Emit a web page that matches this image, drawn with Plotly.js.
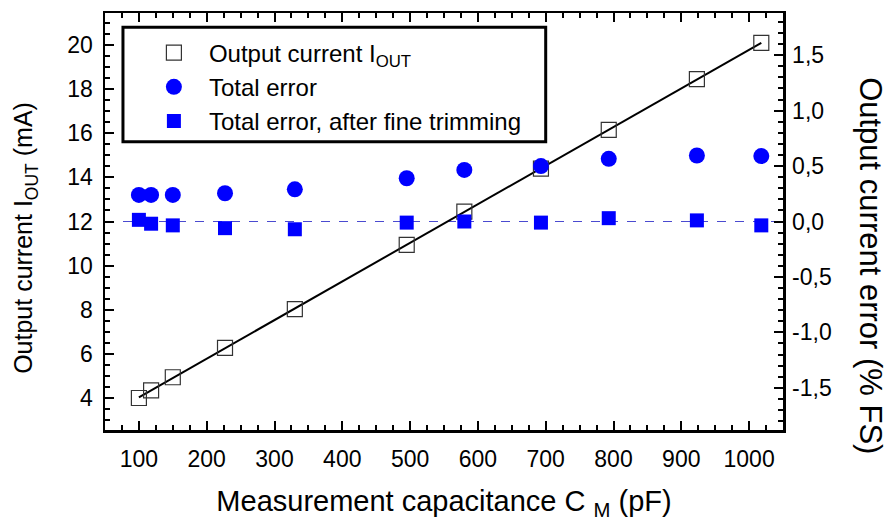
<!DOCTYPE html>
<html>
<head>
<meta charset="utf-8">
<script src="https://cdn.plot.ly/plotly-3.0.1.min.js"></script>
<style>html,body{margin:0;padding:0;background:#fff;}#chart{width:887px;height:521px;}</style>
</head>
<body>
<div id="chart"></div>
<script>
// Data
const capacitance = [100, 118, 150, 227, 330, 495, 580, 693, 793, 923, 1018];     // pF
const outputCurrent = [4.0, 4.35, 4.94, 6.27, 8.03, 10.94, 12.45, 14.4, 16.15, 18.45, 20.1]; // mA
const totalError = [0.24, 0.24, 0.24, 0.255, 0.29, 0.39, 0.465, 0.50, 0.565, 0.595, 0.59];   // % FS
const trimmedError = [0.015, -0.02, -0.035, -0.06, -0.07, -0.01, 0.0, -0.01, 0.03, 0.01, -0.035]; // % FS
const y2TickVals = [-1.5, -1.0, -0.5, 0.0, 0.5, 1.0, 1.5];
const y2TickText = ['-1,5', '-1,0', '-0,5', '0,0', '0,5', '1,0', '1,5'];

// least-squares linear fit of output current
const n = capacitance.length;
const mx = capacitance.reduce((a, b) => a + b, 0) / n;
const my = outputCurrent.reduce((a, b) => a + b, 0) / n;
let sxy = 0, sxx = 0;
for (let i = 0; i < n; i++) { sxy += (capacitance[i] - mx) * (outputCurrent[i] - my); sxx += (capacitance[i] - mx) ** 2; }
const slope = sxy / sxx, icpt = my - slope * mx;
const fitX = [Math.min(...capacitance), Math.max(...capacitance)];
const fitY = fitX.map(x => icpt + slope * x);

const FONT = 'Liberation Sans, Arial, sans-serif';

const traces = [
  {x: fitX, y: fitY, mode: 'lines', line: {color: '#000', width: 2}, showlegend: false, hoverinfo: 'skip'},
  {x: capacitance, y: outputCurrent, mode: 'markers', name: 'Output current I<sub>OUT</sub>',
   marker: {symbol: 'square-open', size: 15, color: '#333', line: {width: 1.2, color: '#333'}}, legendgroup: 'a'},
  {x: capacitance, y: totalError, yaxis: 'y2', mode: 'markers', name: 'Total error',
   marker: {symbol: 'circle', size: 16, color: '#0000ff'}, legendgroup: 'b'},
  {x: capacitance, y: trimmedError, yaxis: 'y2', mode: 'markers', name: 'Total error, after fine trimming',
   marker: {symbol: 'square', size: 14, color: '#0000ff'}, legendgroup: 'c'}
];

const layout = {
  width: 887, height: 521,
  margin: {l: 105, r: 104, t: 13, b: 91},
  paper_bgcolor: '#fff', plot_bgcolor: '#fff',
  font: {family: FONT, color: '#000', size: 22},
  showlegend: true,
  legend: {x: 0.05, y: 0.958, xanchor: 'left', yanchor: 'top', bgcolor: 'rgba(0,0,0,0)',
           font: {family: FONT, size: 24}, itemwidth: 60, traceorder: 'grouped', tracegroupgap: 0},
  xaxis: {
    range: [50, 1050], dtick: 100, tick0: 0, ticks: 'inside', ticklen: 9, tickwidth: 2, tickcolor: '#000',
    minor: {dtick: 25, ticks: 'inside', ticklen: 5, tickwidth: 2, tickcolor: '#000'},
    showline: true, linewidth: 2.5, linecolor: '#000', mirror: 'ticks', showgrid: false, zeroline: false,
    tickfont: {size: 23}, automargin: false, ticklabelstandoff: 7,
    title: {text: 'Measurement capacitance C <sub>M</sub> (pF)', font: {size: 29}, standoff: 22}
  },
  yaxis: {
    range: [2.55, 21.45], dtick: 2, tick0: 0, ticks: 'inside', ticklen: 9, tickwidth: 2, tickcolor: '#000',
    minor: {dtick: 0.5, ticks: 'inside', ticklen: 5, tickwidth: 2, tickcolor: '#000'},
    showline: true, linewidth: 2.5, linecolor: '#000', showgrid: false, zeroline: false,
    tickfont: {size: 23}, automargin: false, ticklabelstandoff: 5
  },
  yaxis2: {
    overlaying: 'y', side: 'right', range: [-1.88, 1.88],
    tickvals: y2TickVals, ticktext: y2TickText,
    ticks: 'inside', ticklen: 9, tickwidth: 2, tickcolor: '#000',
    minor: {dtick: 0.1, ticks: 'inside', ticklen: 5, tickwidth: 2, tickcolor: '#000'},
    showline: true, linewidth: 2.5, linecolor: '#000', showgrid: false, zeroline: false,
    tickfont: {size: 23}, automargin: false, ticklabelstandoff: 2
  },
  shapes: [
    {type: 'line', xref: 'paper', yref: 'y2', x0: 0, x1: 1, y0: 0, y1: 0, layer: 'below',
     line: {color: '#4a4ad0', width: 1, dash: 'dash'}},
    {type: 'rect', xref: 'paper', yref: 'paper', x0: 0.0265, x1: 0.650, y0: 0.691, y1: 0.966,
     line: {color: '#000', width: 3}, fillcolor: 'rgba(0,0,0,0)'}
  ],
  annotations: [
    {text: 'Output current I<sub>OUT</sub> (mA)', xref: 'paper', yref: 'paper', x: -0.117, y: 0.46,
     textangle: -90, showarrow: false, font: {size: 25}, xanchor: 'center', yanchor: 'middle'},
    {text: 'Output current error (% FS)', xref: 'paper', yref: 'paper', x: 1.13, y: 0.395,
     textangle: 90, showarrow: false, font: {size: 31}, xanchor: 'center', yanchor: 'middle'}
  ]
};

Plotly.newPlot('chart', traces, layout, {staticPlot: true, displayModeBar: false});
</script>
</body>
</html>
